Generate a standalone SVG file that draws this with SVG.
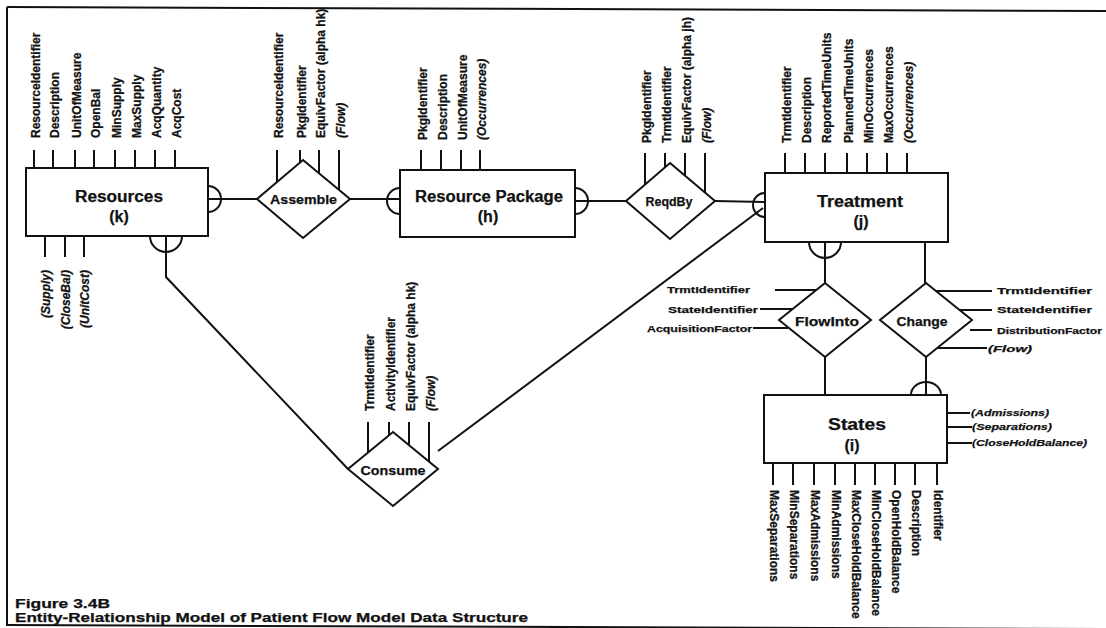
<svg xmlns="http://www.w3.org/2000/svg" width="1106" height="628" viewBox="0 0 1106 628">
  <style>
    .ln { stroke: #111; stroke-width: 2; fill: none; }
    .box { fill: #fff; stroke: #111; stroke-width: 2; }
    .t { font-family: "Liberation Sans", Arial, sans-serif; font-weight: bold; fill: #111; stroke: #111; stroke-width: 0.25; }
    .a { font-size: 12px; }
    .h { font-size: 9.5px; }
    .i { font-style: italic; }
    .e { font-size: 16px; text-anchor: middle; }
    .r { font-size: 13px; text-anchor: middle; }
  </style>

  <!-- page frame -->
  <g id="frame" class="ln">
    <path d="M7,7 L1106,11"/>
    <path d="M7,7 V626"/>
    <path d="M7,625 L1106,629"/>
  </g>

  <!-- relationship lines -->
  <g id="connectors" class="ln">
    <path d="M208,199 H257"/>
    <path d="M350,199 H400"/>
    <path d="M575,201 H626"/>
    <path d="M715,201 L765,202"/>
    <path d="M166,236 V277 L348,469"/>
    <path d="M438,451 L763,208"/>
    <path d="M825,242 V283"/>
    <path d="M925,242 V283"/>
    <path d="M825,357 V395"/>
    <path d="M926,357 V395"/>
    <!-- cardinality arcs -->
    <path d="M208,186 A13,13 0 0 1 208,212"/>
    <path d="M150,236 A16,16 0 0 0 182,236"/>
    <path d="M400,188 A13,13 0 0 0 400,214"/>
    <path d="M575,188 A13,13 0 0 1 575,214"/>
    <path d="M765,193 A12,12 0 0 0 765,217"/>
    <path d="M809,242 A16,16 0 0 0 841,242"/>
    <path d="M911,395 A15,13 0 0 1 941,395"/>
  </g>

  <!-- Resources entity -->
  <g id="resources">
    <g class="ln">
      <path d="M34,150 V168 M53,150 V168 M75,150 V168 M94,150 V168 M115,150 V168 M135,150 V168 M155,150 V168 M175,150 V168"/>
      <path d="M45,236 V257 M65,236 V257 M84,236 V257"/>
    </g>
    <rect class="box" x="26" y="168" width="182" height="68"/>
    <text class="t e" x="119" y="201.5" textLength="88" lengthAdjust="spacingAndGlyphs">Resources</text>
    <text class="t e" x="119" y="222">(k)</text>
    <g class="t a">
      <text transform="translate(40,138) rotate(-90) scale(1,1.1)">ResourceIdentifier</text>
      <text transform="translate(59,138) rotate(-90) scale(1,1.1)">Description</text>
      <text transform="translate(81,138) rotate(-90) scale(1,1.1)">UnitOfMeasure</text>
      <text transform="translate(100,138) rotate(-90) scale(1,1.1)">OpenBal</text>
      <text transform="translate(121,138) rotate(-90) scale(1,1.1)">MinSupply</text>
      <text transform="translate(141,138) rotate(-90) scale(1,1.1)">MaxSupply</text>
      <text transform="translate(161,138) rotate(-90) scale(1,1.1)">AcqQuantity</text>
      <text transform="translate(181,138) rotate(-90) scale(1,1.1)">AcqCost</text>
    </g>
    <g class="t a i" text-anchor="end">
      <text transform="translate(50,270) rotate(-90) scale(1,1.1)">(Supply)</text>
      <text transform="translate(70,270) rotate(-90) scale(1,1.1)">(CloseBal)</text>
      <text transform="translate(89,270) rotate(-90) scale(1,1.1)">(UnitCost)</text>
    </g>
  </g>

  <!-- Assemble relationship -->
  <g id="assemble">
    <path class="ln" d="M277,150 V182 M300,150 V162 M319,150 V173 M339,150 V190"/>
    <polygon class="box" points="303,160 350,199 303,238 257,199"/>
    <text class="t r" x="303.5" y="204" textLength="67" lengthAdjust="spacingAndGlyphs">Assemble</text>
    <g class="t a">
      <text transform="translate(283,138) rotate(-90) scale(1,1.1)">ResourceIdentifier</text>
      <text transform="translate(306,138) rotate(-90) scale(1,1.1)">PkgIdentifier</text>
      <text transform="translate(325,138) rotate(-90) scale(1,1.1)">EquivFactor (alpha hk)</text>
      <text class="i" transform="translate(345,138) rotate(-90) scale(1,1.1)">(Flow)</text>
    </g>
  </g>

  <!-- Resource Package entity -->
  <g id="resource-package">
    <path class="ln" d="M421,150 V170 M441,150 V170 M461,150 V170 M480,150 V170"/>
    <rect class="box" x="400" y="170" width="175" height="67"/>
    <text class="t e" x="489" y="202" textLength="148" lengthAdjust="spacingAndGlyphs">Resource Package</text>
    <text class="t e" x="488" y="222">(h)</text>
    <g class="t a">
      <text transform="translate(427,140) rotate(-90) scale(1,1.1)">PkgIdentifier</text>
      <text transform="translate(447,140) rotate(-90) scale(1,1.1)">Description</text>
      <text transform="translate(467,140) rotate(-90) scale(1,1.1)">UnitOfMeasure</text>
      <text class="i" transform="translate(486,140) rotate(-90) scale(1,1.1)">(Occurrences)</text>
    </g>
  </g>

  <!-- ReqdBy relationship -->
  <g id="reqdby">
    <path class="ln" d="M645,153 V185 M665,153 V167 M685,153 V176 M705,153 V193"/>
    <polygon class="box" points="670,163 715,201 670,239 626,201"/>
    <text class="t r" x="669" y="206" font-size="12" textLength="47" lengthAdjust="spacingAndGlyphs">ReqdBy</text>
    <g class="t a">
      <text transform="translate(651,143) rotate(-90) scale(1,1.1)">PkgIdentifier</text>
      <text transform="translate(671,143) rotate(-90) scale(1,1.1)">TrmtIdentifier</text>
      <text transform="translate(691,143) rotate(-90) scale(1,1.1)">EquivFactor (alpha jh)</text>
      <text class="i" transform="translate(711,143) rotate(-90) scale(1,1.1)">(Flow)</text>
    </g>
  </g>

  <!-- Treatment entity -->
  <g id="treatment">
    <path class="ln" d="M785,153 V173 M805,153 V173 M825,153 V173 M847,153 V173 M867,153 V173 M887,153 V173 M907,153 V173"/>
    <rect class="box" x="765" y="173" width="183" height="69"/>
    <text class="t e" x="860" y="207" textLength="86" lengthAdjust="spacingAndGlyphs">Treatment</text>
    <text class="t e" x="861" y="227">(j)</text>
    <g class="t a">
      <text transform="translate(791,143) rotate(-90) scale(1,1.1)">TrmtIdentifier</text>
      <text transform="translate(811,143) rotate(-90) scale(1,1.1)">Description</text>
      <text transform="translate(831,143) rotate(-90) scale(1,1.1)">ReportedTimeUnits</text>
      <text transform="translate(853,143) rotate(-90) scale(1,1.1)">PlannedTimeUnits</text>
      <text transform="translate(873,143) rotate(-90) scale(1,1.1)">MinOccurrences</text>
      <text transform="translate(893,143) rotate(-90) scale(1,1.1)">MaxOccurrences</text>
      <text class="i" transform="translate(913,143) rotate(-90) scale(1,1.1)">(Occurrences)</text>
    </g>
  </g>

  <!-- Consume relationship -->
  <g id="consume">
    <path class="ln" d="M368,422 V453 M389,422 V435 M409,422 V445 M429,422 V462"/>
    <polygon class="box" points="393,432 438,469 393,506 348,469"/>
    <text class="t r" x="393" y="475" font-size="13.5" textLength="65" lengthAdjust="spacingAndGlyphs">Consume</text>
    <g class="t a">
      <text transform="translate(374,411) rotate(-90) scale(1,1.1)">TrmtIdentifier</text>
      <text transform="translate(395,411) rotate(-90) scale(1,1.1)">ActivityIdentifier</text>
      <text transform="translate(415,411) rotate(-90) scale(1,1.1)">EquivFactor (alpha hk)</text>
      <text class="i" transform="translate(435,411) rotate(-90) scale(1,1.1)">(Flow)</text>
    </g>
  </g>

  <!-- FlowInto relationship -->
  <g id="flowinto">
    <path class="ln" d="M775,290 H816 M760,309 H792 M753,328 H788"/>
    <polygon class="box" points="825,283 871,320 825,357 779,320"/>
    <text class="t r" x="827" y="326" font-size="14" textLength="64" lengthAdjust="spacingAndGlyphs">FlowInto</text>
    <g class="t h" text-anchor="end">
      <text x="750" y="293" textLength="83" lengthAdjust="spacingAndGlyphs">TrmtIdentifier</text>
      <text x="758" y="313" textLength="90" lengthAdjust="spacingAndGlyphs">StateIdentifier</text>
      <text x="752" y="332" textLength="105" lengthAdjust="spacingAndGlyphs">AcquisitionFactor</text>
    </g>
  </g>

  <!-- Change relationship -->
  <g id="change">
    <path class="ln" d="M936,291 H992 M960,310 H992 M970,330 H992 M938,348 H987"/>
    <polygon class="box" points="926,283 972,320 926,357 880,320"/>
    <text class="t r" x="922" y="326" font-size="14" textLength="51" lengthAdjust="spacingAndGlyphs">Change</text>
    <g class="t h">
      <text x="997" y="294" textLength="95" lengthAdjust="spacingAndGlyphs">TrmtIdentifier</text>
      <text x="997" y="313" textLength="95" lengthAdjust="spacingAndGlyphs">StateIdentifier</text>
      <text x="997" y="334" textLength="105" lengthAdjust="spacingAndGlyphs">DistributionFactor</text>
      <text class="i" x="988" y="352" textLength="44" lengthAdjust="spacingAndGlyphs">(Flow)</text>
    </g>
  </g>

  <!-- States entity -->
  <g id="states">
    <path class="ln" d="M947,413 H970 M947,427 H972 M947,443 H972"/>
    <path class="ln" d="M773,463 V485 M793,463 V485 M814,463 V485 M835,463 V485 M855,463 V485 M875,463 V485 M895,463 V485 M915,463 V485 M937,463 V485"/>
    <rect class="box" x="764" y="395" width="183" height="68"/>
    <text class="t e" x="857" y="430" font-size="18" textLength="58" lengthAdjust="spacingAndGlyphs">States</text>
    <text class="t e" x="852" y="451">(i)</text>
    <g class="t h i">
      <text x="971" y="416" textLength="78" lengthAdjust="spacingAndGlyphs">(Admissions)</text>
      <text x="972" y="430" textLength="80" lengthAdjust="spacingAndGlyphs">(Separations)</text>
      <text x="972" y="446" textLength="115" lengthAdjust="spacingAndGlyphs">(CloseHoldBalance)</text>
    </g>
    <g class="t a">
      <text transform="translate(770,490) rotate(90) scale(1,1.1)">MaxSeparations</text>
      <text transform="translate(790,490) rotate(90) scale(1,1.1)">MinSeparations</text>
      <text transform="translate(811,490) rotate(90) scale(1,1.1)">MaxAdmissions</text>
      <text transform="translate(832,490) rotate(90) scale(1,1.1)">MinAdmissions</text>
      <text transform="translate(852,490) rotate(90) scale(1,1.1)">MaxCloseHoldBalance</text>
      <text transform="translate(872,490) rotate(90) scale(1,1.1)">MinCloseHoldBalance</text>
      <text transform="translate(892,490) rotate(90) scale(1,1.1)">OpenHoldBalance</text>
      <text transform="translate(912,490) rotate(90) scale(1,1.1)">Description</text>
      <text transform="translate(934,490) rotate(90) scale(1,1.1)">Identifier</text>
    </g>
  </g>

  <!-- caption -->
  <g id="caption" class="t">
    <text x="15" y="608" font-size="12" textLength="95" lengthAdjust="spacingAndGlyphs">Figure 3.4B</text>
    <text x="15" y="622" font-size="12" textLength="513" lengthAdjust="spacingAndGlyphs">Entity-Relationship Model of Patient Flow Model Data Structure</text>
  </g>
</svg>
